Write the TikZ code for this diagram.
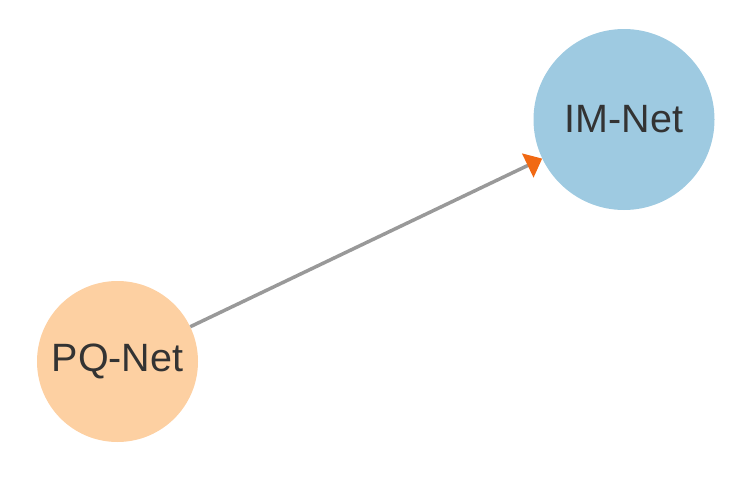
\documentclass[tikz,border=0pt]{standalone}
\usepackage{fontspec}
\setmainfont{Liberation Sans}
\usetikzlibrary{arrows.meta}
\definecolor{pqfill}{HTML}{FDD0A2}
\definecolor{imfill}{HTML}{9ECAE1}
\definecolor{edgegray}{HTML}{999999}
\definecolor{tiporange}{HTML}{F16913}
\definecolor{labeltext}{HTML}{333333}
\begin{document}
\begin{tikzpicture}
				[x=1pt,y=-1pt,
				netnode/.style={circle,inner sep=0pt,text=labeltext,font=\fontsize{39.5}{41}\selectfont},
				link/.style={edgegray,line width=3.5pt,-{Triangle[length=16pt,width=26pt,color=tiporange,fill=tiporange]}}]
				\useasboundingbox (0,0) rectangle (742,482);
				\node[netnode,fill=pqfill,minimum size=161pt,name=pq] at (117.5,361.5) {PQ-Net};
				\node[netnode,fill=imfill,minimum size=181pt,name=im] at (624,119.5) {IM-Net};
				\draw[link] (pq)--(im);
			\end{tikzpicture}
\end{document}
